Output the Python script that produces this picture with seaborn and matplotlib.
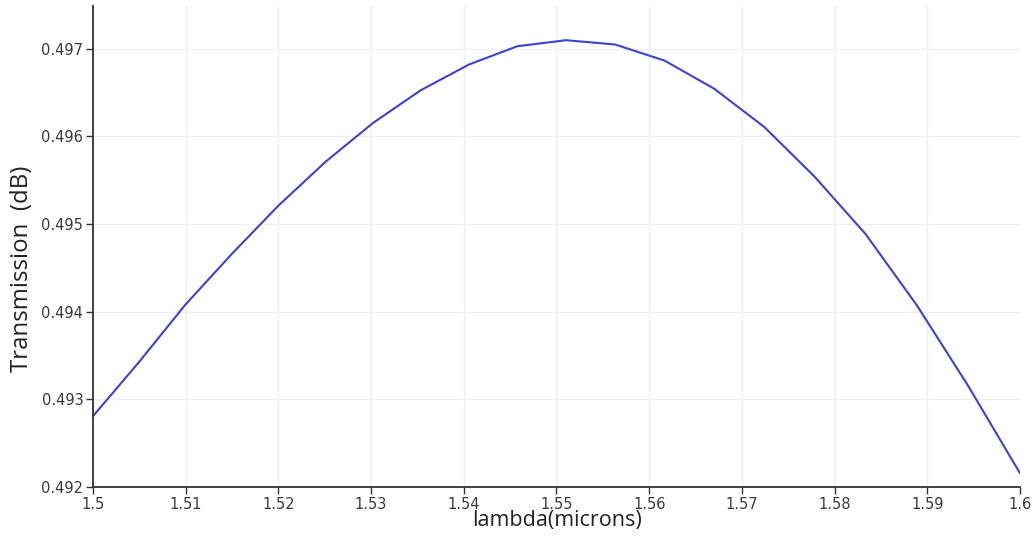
import matplotlib
matplotlib.use("Agg")
import matplotlib.pyplot as plt
from matplotlib.ticker import FormatStrFormatter, FuncFormatter
import seaborn as sns
import pandas as pd

# Wavelength samples (microns), evenly spaced in frequency
wavelength = [1.5, 1.50495, 1.50994, 1.51495, 1.52, 1.52508, 1.53019,
              1.53535, 1.54054, 1.54577, 1.55102, 1.55632, 1.56164,
              1.56701, 1.57241, 1.57785, 1.58333, 1.58885, 1.59441, 1.6]
# Transmission at each wavelength
transmission = [0.492808, 0.493423, 0.494076, 0.494655, 0.495208, 0.495708,
                0.496150, 0.496524, 0.496817, 0.497026, 0.497095, 0.497046,
                0.496863, 0.496542, 0.496106, 0.495538, 0.494886, 0.494076,
                0.493153, 0.492157]

x_ticks = [1.5, 1.51, 1.52, 1.53, 1.54, 1.55, 1.56, 1.57, 1.58, 1.59, 1.6]
y_ticks = [0.492, 0.493, 0.494, 0.495, 0.496, 0.497]

df = pd.DataFrame({"lambda": wavelength, "T": transmission})

sns.set_style("whitegrid")
plt.rcParams["font.family"] = ["Open Sans", "DejaVu Sans"]

fig = plt.figure(figsize=(10.32, 5.42), dpi=100)
ax = fig.add_axes([93 / 1032, 55 / 542, (1020 - 93) / 1032, (487 - 6) / 542])

sns.lineplot(data=df, x="lambda", y="T", ax=ax, color="#3a43cc",
             linewidth=1.5, sort=False)

ax.set_xlim(1.5, 1.6)
ax.set_ylim(0.492, 0.497485)
ax.set_xticks(x_ticks)
ax.set_yticks(y_ticks)
ax.xaxis.set_major_formatter(FuncFormatter(lambda v, p: f"{v:g}"))
ax.yaxis.set_major_formatter(FormatStrFormatter("%.3f"))

ax.grid(True, color="#efefef", linewidth=0.9)
for side in ("top", "right"):
    ax.spines[side].set_visible(False)
for side in ("left", "bottom"):
    ax.spines[side].set_visible(True)
    ax.spines[side].set_color("#333333")
    ax.spines[side].set_linewidth(1.3)

ax.tick_params(axis="both", which="major", direction="out", length=5,
               width=1.0, color="#333333", labelcolor="#3a3a3a",
               labelsize=10.5, pad=2, left=True, bottom=True)
for lbl in ax.get_xticklabels() + ax.get_yticklabels():
    lbl.set_fontfamily("DejaVu Sans")

ax.set_xlabel("lambda(microns)", fontsize=15.5, color="#222222", labelpad=-1)
ax.set_ylabel("Transmission  (dB)", fontsize=17.3, color="#222222")
ax.yaxis.set_label_coords(-0.064, 0.453)

fig.savefig("out.png", dpi=100, facecolor="white")
